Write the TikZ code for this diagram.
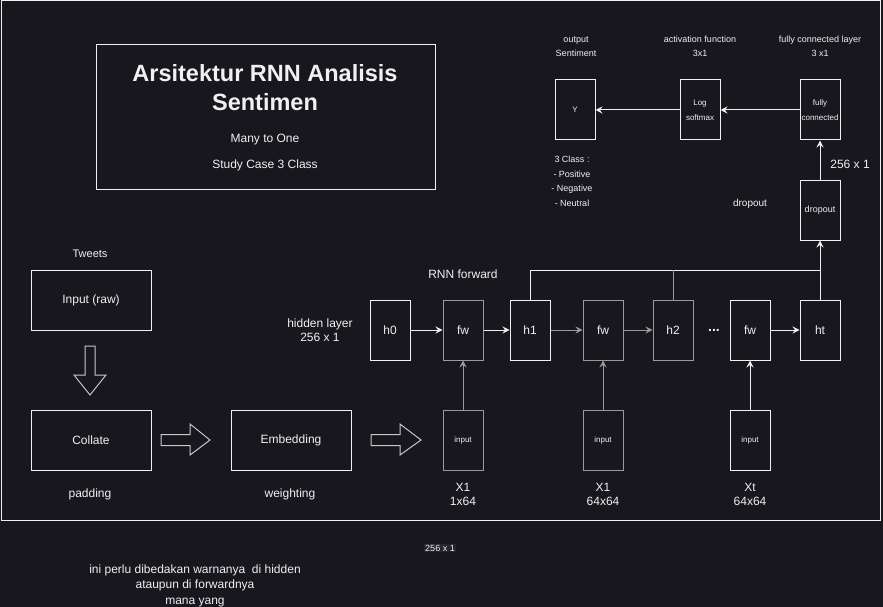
\documentclass[tikz,border=0pt]{standalone}
\usepackage{fontspec}
\setmainfont{Liberation Sans}
\usetikzlibrary{arrows.meta}
\definecolor{bg}{HTML}{18171E}
\definecolor{fg}{HTML}{F0F0F0}
\definecolor{gr}{HTML}{9A9A9A}
\definecolor{hl}{HTML}{C8C8C8}
\definecolor{lblbg}{HTML}{26252C}
\begin{document}
\begin{tikzpicture}[x=1pt,y=-1pt,
  box/.style={draw=fg, line width=1pt, inner sep=0pt, text=fg, align=center},
  gbox/.style={box, draw=gr},
  tall/.style={minimum width=40pt, minimum height=60pt},
  wide/.style={minimum width=120pt, minimum height=60pt},
  lbl/.style={text=fg, align=center, inner sep=0pt},
  f8/.style={font=\fontsize{8}{15}\selectfont},
  f9/.style={font=\fontsize{9}{14.5}\selectfont},
  f10/.style={font=\fontsize{10}{12}\selectfont},
  f12/.style={font=\fontsize{12}{14}\selectfont},
  f12s/.style={font=\fontsize{12}{15.5}\selectfont},
  arr/.style={-{Stealth[length=7pt,width=7pt,inset=2.5pt]}, line width=1pt, draw=fg},
  garr/.style={arr, draw=gr},
  ln/.style={line width=1pt, draw=fg},
  gln/.style={line width=1pt, draw=gr},
  hollow/.style={draw=hl, line width=1pt}
]
\fill[bg] (0,0) rectangle (883,607);
\useasboundingbox (0,0) rectangle (883,607);
\draw[ln] (1,1) rectangle (880,520);

% title box
\node[box, minimum width=339pt, minimum height=144pt] (title) at (265.5,117) {};
\node[lbl, font=\bfseries\fontsize{23.5}{29}\selectfont] (t1) at (265,87.5) {Arsitektur RNN Analisis\\Sentimen};
\node[lbl, f12] (t2) at (265,140) {Many to One};
\node[lbl, f12] (t3) at (265,165) {Study Case 3 Class};

% left pipeline
\node[lbl, font=\fontsize{11}{13}\selectfont] (tweets) at (90,254) {Tweets};
\node[box, wide, f12] (raw) at (91,300) {Input (raw)};
\node[box, wide, f12] (collate) at (91,440) {Collate};
\node[box, wide, f12] (embed) at (291,440) {Embedding};
\node[lbl, f12] (padding) at (90,494) {padding};
\node[lbl, f12] (weighting) at (290,494) {weighting};

\draw[hollow] (85,346) -- (95,346) -- (95,375) -- (106,375) -- (90,395) -- (74,375) -- (85,375) -- cycle;
\draw[hollow] (161,434.5) -- (190,434.5) -- (190,424) -- (210,440) -- (190,455) -- (190,445.5) -- (161,445.5) -- cycle;
\draw[hollow] (371,434.5) -- (400,434.5) -- (400,424) -- (421,440) -- (400,455) -- (400,445.5) -- (371,445.5) -- cycle;

% RNN chain
\node[lbl, f12] (rnnf) at (463,274) {RNN forward};
\node[lbl, f12] (hid) at (320,330) {hidden layer\\256 x 1};
\node[box, tall, f12] (h0) at (390,330) {h0};
\node[gbox, tall, f12] (fw1) at (463,330) {fw};
\node[box, tall, f12] (h1) at (530,330) {h1};
\node[gbox, tall, f12] (fw2) at (603,330) {fw};
\node[gbox, tall, f12] (h2) at (673,330) {h2};
\node[lbl, font=\bfseries\fontsize{14}{16}\selectfont] (dots) at (714,330) {...};
\node[box, tall, f12] (fw3) at (750,330) {fw};
\node[box, tall, f12] (ht) at (820,330) {ht};

\node[gbox, tall, f8] (in1) at (463,440) {input};
\node[gbox, tall, f8] (in2) at (603,440) {input};
\node[box, tall, f8] (in3) at (750,440) {input};
\node[lbl, f12] (x1) at (463,494.5) {X1\\1x64};
\node[lbl, f12] (x2) at (603,494.5) {X1\\64x64};
\node[lbl, f12] (x3) at (750,494.5) {Xt\\64x64};

\draw[arr] (h0) -- (fw1);
\draw[arr] (fw1) -- (h1);
\draw[garr] (h1) -- (fw2);
\draw[garr] (fw2) -- (h2);
\draw[arr] (fw3) -- (ht);
\draw[garr] (in1) -- (fw1);
\draw[garr] (in2) -- (fw2);
\draw[arr] (in3) -- (fw3);

% output part
\node[box, tall, f8] (Y) at (575,110) {Y};
\node[box, tall, f8] (ls) at (700,110) {Log\\softmax};
\node[box, tall, f8] (fc) at (820,110) {fully\\connected};
\node[box, tall, f9] (do) at (820,210) {dropout};

\coordinate (j1) at (530,270);
\coordinate (j2) at (820,270);
\coordinate (j3) at (673,270);
\draw[arr] (h1.north) -- (j1) -- (j2) -- (do.south);
\draw[ln] (ht.north) -- (j2);
\draw[gln] (h2.north) -- (j3);
\draw[arr] (do) -- (fc);
\draw[arr] (fc) -- (ls);
\draw[arr] (ls) -- (Y);

\node[lbl, f9] (lout) at (576,46.5) {output\\Sentiment};
\node[lbl, f9] (lact) at (700,46.5) {activation function\\3x1};
\node[lbl, f9] (lfc) at (820,46.5) {fully connected layer\\3 x1};
\node[lbl, f12] (l256) at (850,164) {256 x 1};
\node[lbl, f10] (ldo) at (750,204) {dropout};
\node[lbl, f9] (cls) at (572,181.5) {3 Class :\\- Positive\\- Negative\\- Neutral};

% notes below
\node[lbl, f9, fill=lblbg, inner sep=1pt] (n256) at (440,548) {256 x 1};
\node[lbl, f12s] (note) at (195,585.5) {ini perlu dibedakan warnanya\ \ di hidden\\ataupun di forwardnya\\mana yang};
\end{tikzpicture}
\end{document}
